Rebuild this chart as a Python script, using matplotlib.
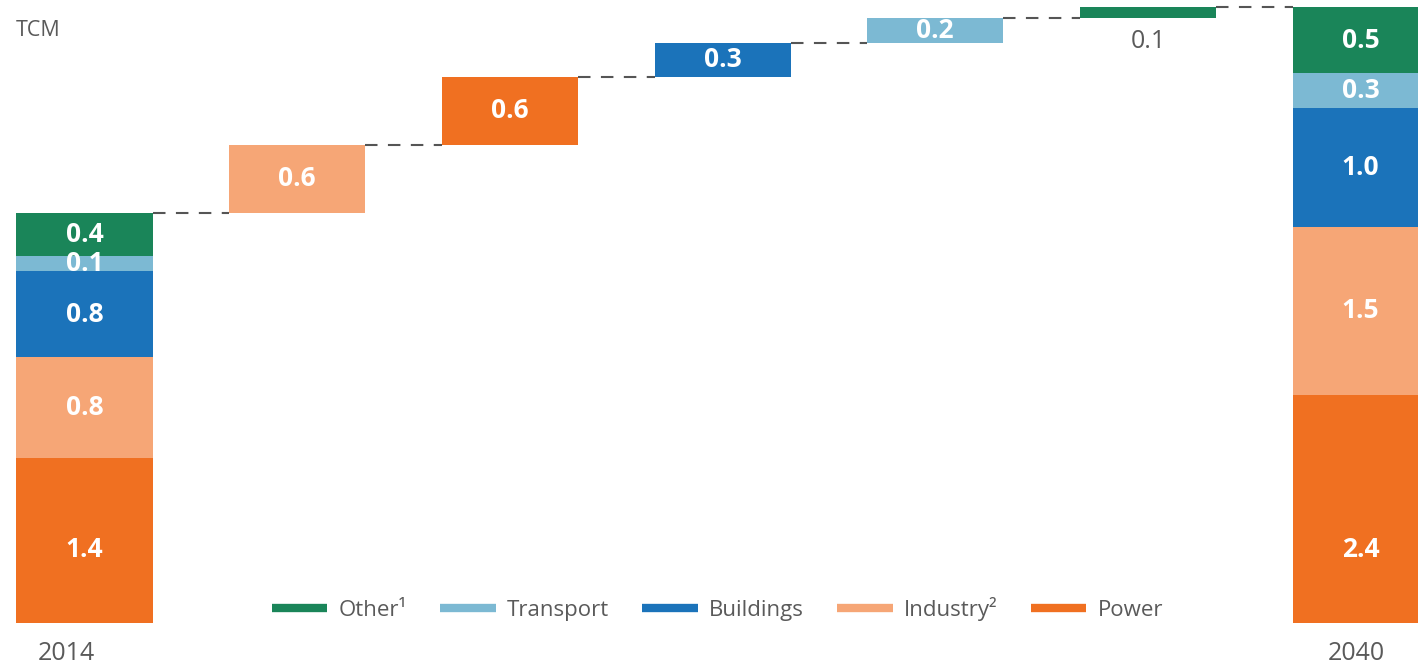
import matplotlib
matplotlib.use("Agg")
import matplotlib.pyplot as plt
from matplotlib.lines import Line2D

plt.rcParams['font.family'] = ['Open Sans', 'DejaVu Sans']

# ---- data (TCM) ----
sectors = ['Power', 'Industry', 'Buildings', 'Transport', 'Other']   # bottom -> top
legend_labels = ['Other\u00b9', 'Transport', 'Buildings', 'Industry\u00b2', 'Power']
colors = {'Power': '#f07021', 'Industry': '#f6a676', 'Buildings': '#1b73ba',
          'Transport': '#7cb9d3', 'Other': '#1a8559'}

vals_2014 = [1.53, 0.93, 0.80, 0.14, 0.40]
labels_2014 = ['1.4', '0.8', '0.8', '0.1', '0.4']

step_sectors = ['Industry', 'Power', 'Buildings', 'Transport', 'Other']
step_vals = [0.63, 0.63, 0.31, 0.23, 0.10]
step_labels = ['0.6', '0.6', '0.3', '0.2', '0.1']

vals_2040 = [2.11, 1.56, 1.10, 0.32, 0.61]
labels_2040 = ['2.4', '1.5', '1.0', '0.3', '0.5']

years = ['2014', '2040']

# ---- figure ----
fig = plt.figure(figsize=(14.18, 6.72), dpi=100)
ax = fig.add_axes([0, 0, 1, 1])
px_x = 212.7
px_y = 108.0
ax.set_xlim(-84.5 / px_x, (1418 - 84.5) / px_x)
ax.set_ylim(-49 / px_y, 623 / px_y)
ax.axis('off')

W = 0.64
val_fs = 19
txt_gray = '#5a5a5a'


def stacked(x, vals, labels):
    bottom = 0
    for s, v, lab in zip(sectors, vals, labels):
        ax.bar(x, v, W, bottom=bottom, color=colors[s], linewidth=0)
        if s == 'Power':
            ty = bottom + 0.68
        else:
            ty = bottom + v / 2
        ax.text(x, ty, lab, ha='center', va='center', color='white',
                fontsize=val_fs, fontweight='bold')
        bottom += v
    return bottom


top = stacked(0, vals_2014, labels_2014)

level = top
prev_x = 0
for i, (s, v, lab) in enumerate(zip(step_sectors, step_vals, step_labels)):
    x = i + 1
    ax.plot([prev_x + W / 2, x - W / 2], [level, level], color='#555555',
            lw=1.5, ls=(0, (6, 5)))
    ax.bar(x, v, W, bottom=level, color=colors[s], linewidth=0)
    if v < 0.2:
        ax.text(x, level - 0.22, lab, ha='center', va='center', color=txt_gray,
                fontsize=val_fs - 1)
    else:
        ax.text(x, level + v / 2, lab, ha='center', va='center', color='white',
                fontsize=val_fs, fontweight='bold')
    level += v
    prev_x = x

x_end = len(step_vals) + 1
ax.plot([prev_x + W / 2, x_end - W / 2], [level, level], color='#555555',
        lw=1.5, ls=(0, (6, 5)))
stacked(x_end, vals_2040, labels_2040)

# year labels
ax.text(-0.085, -0.28, years[0], ha='center', va='center', color=txt_gray, fontsize=18)
ax.text(x_end - 0.02, -0.28, years[1], ha='center', va='center', color=txt_gray, fontsize=18)

# unit
fig.text(16 / 1418, 1 - 31 / 672, 'TCM', ha='left', va='center', color=txt_gray, fontsize=15.5)

# legend
leg_order = ['Other', 'Transport', 'Buildings', 'Industry', 'Power']
handles = [Line2D([], [], color=colors[s], lw=6, solid_capstyle='butt') for s in leg_order]
fig.legend(handles, legend_labels, loc='center', bbox_to_anchor=(0.506, 1 - 609 / 672),
           ncol=5, frameon=False, fontsize=16, labelcolor=txt_gray,
           handlelength=2.5, handletextpad=0.5, columnspacing=1.5)

fig.savefig('out.png', dpi=100)
